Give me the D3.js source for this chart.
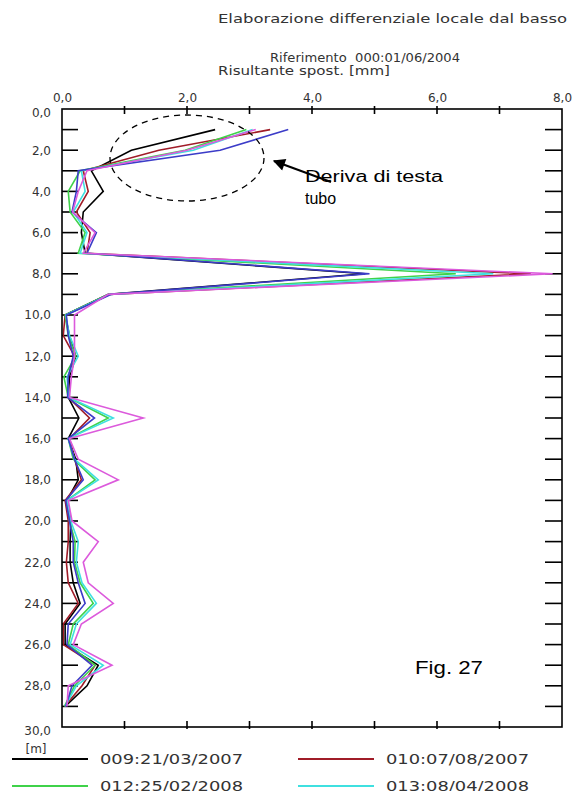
<!DOCTYPE html>
<html>
<head>
  <meta charset="utf-8">
  <title>Elaborazione differenziale locale dal basso</title>
  <script src="https://d3js.org/d3.v7.min.js"></script>
  <style>
    body { margin: 0; background: #fff; }
    svg { display: block; }
    .lbl { font-family: "DejaVu Sans", Verdana, sans-serif; fill: #333; white-space: pre; }
    .ann { font-family: "Liberation Sans", Arial, sans-serif; fill: #000; }
  </style>
</head>
<body>
<div id="chart"></div>
<script>
// depth of each reading [m]
var depths = [1,2,3,4,5,6,7,8,9,10,11,12,13,14,15,16,17,18,19,20,21,22,23,24,25,26,27,28,29];

// resultant displacement [mm], one array per reading
var s009 = [2.45,1.11,0.47,0.66,0.34,0.31,0.37,4.85,0.74,0.05,0.12,0.22,0.12,0.10,0.27,0.10,0.22,0.26,0.08,0.14,0.13,0.13,0.18,0.29,0.05,0.05,0.58,0.40,0.05];
var s010 = [3.33,1.55,0.34,0.42,0.23,0.45,0.40,7.50,0.76,0.05,0.02,0.20,0.10,0.10,0.44,0.12,0.20,0.31,0.05,0.10,0.10,0.07,0.10,0.26,0.02,0.02,0.53,0.32,0.04];
var s012 = [2.95,1.97,0.29,0.10,0.13,0.37,0.26,6.30,0.75,0.05,0.10,0.22,0.03,0.10,0.74,0.10,0.18,0.53,0.08,0.12,0.21,0.20,0.29,0.50,0.18,0.10,0.53,0.20,0.04];
var s013 = [3.05,2.10,0.31,0.37,0.18,0.40,0.29,6.90,0.76,0.06,0.12,0.26,0.08,0.11,0.82,0.10,0.20,0.58,0.08,0.14,0.26,0.23,0.32,0.55,0.23,0.13,0.66,0.23,0.05];
var s014 = [3.62,2.53,0.26,0.23,0.16,0.55,0.40,4.92,0.78,0.07,0.10,0.18,0.10,0.09,0.52,0.10,0.20,0.34,0.06,0.12,0.18,0.18,0.26,0.37,0.10,0.08,0.48,0.16,0.06];
var s015 = [3.10,2.00,0.40,0.26,0.17,0.53,0.34,7.85,0.74,0.20,0.20,0.20,0.15,0.12,1.30,0.12,0.26,0.90,0.10,0.16,0.58,0.34,0.42,0.82,0.31,0.18,0.80,0.10,0.08];

var seriesNames  = ["009:21/03/2007","010:07/08/2007","012:25/02/2008","013:08/04/2008","014","015"];
var seriesValues = [s009, s010, s012, s013, s014, s015];
var seriesColors = ["#000000","#a01c28","#3fd24a","#3fe0e0","#3c3cc8","#dc5adc"];

var xTickLabels = [0,2,4,6,8];
var yTickLabels = [0,2,4,6,8,10,12,14,16,18,20,22,24,26,28,30];

var W = 574, H = 791;
var plot = {left: 62, right: 562, top: 109, bottom: 727};   // window.top is read-only, so keep these in an object

var svg = d3.select("#chart").append("svg")
    .attr("width", W)
    .attr("height", H);

var x = d3.scaleLinear().domain([0, 8]).range([plot.left, plot.right]);
var y = d3.scaleLinear().domain([0, 30]).range([plot.top, plot.bottom]);
var fmt = function(d){ return d.toFixed(1).replace(".", ","); };

// titles
svg.append("text").attr("class","lbl").attr("x",218).attr("y",23)
  .attr("font-size",13).attr("textLength",349).attr("lengthAdjust","spacingAndGlyphs")
  .text("Elaborazione differenziale locale dal basso");
svg.append("text").attr("class","lbl").attr("x",270).attr("y",62)
  .attr("font-size",13).attr("textLength",190).attr("lengthAdjust","spacingAndGlyphs")
  .text("Riferimento  000:01/06/2004");
svg.append("text").attr("class","lbl").attr("x",218).attr("y",75)
  .attr("font-size",13).attr("textLength",172).attr("lengthAdjust","spacingAndGlyphs")
  .text("Risultante spost. [mm]");

// axis labels (tick marks drawn separately)
var xAxis = svg.append("g")
    .attr("transform","translate(0," + (plot.top - 7) + ")")
    .call(d3.axisTop(x).tickValues(xTickLabels).tickSize(0).tickPadding(0).tickFormat(fmt));
xAxis.select(".domain").remove();
xAxis.selectAll("text").attr("class","lbl").attr("font-size",12).attr("fill","#333");

var yAxis = svg.append("g")
    .attr("transform","translate(" + (plot.left - 11) + ",0)")
    .call(d3.axisLeft(y).tickValues(yTickLabels).tickSize(0).tickPadding(0).tickFormat(fmt));
yAxis.select(".domain").remove();
yAxis.selectAll("text").attr("class","lbl").attr("font-size",12).attr("fill","#333");
yAxis.selectAll(".tick").filter(function(d){ return d === 0 || d === 30; }).select("text").attr("dy","0.6em");

svg.append("text").attr("class","lbl").attr("x",36).attr("y",753)
  .attr("font-size",12).attr("text-anchor","middle").text("[m]");

// tick marks: every metre on left and right, every mm on top and bottom
var yMinor = d3.range(1, 30);
var xMinor = d3.range(1, 8);
var ticks = svg.append("g").attr("stroke","#000").attr("stroke-width",1.6);
ticks.selectAll(".tl").data(yMinor).enter().append("line")
  .attr("x1", plot.left).attr("x2", plot.left + 16)
  .attr("y1", function(d){ return y(d); }).attr("y2", function(d){ return y(d); });
ticks.selectAll(".tr").data(yMinor).enter().append("line")
  .attr("x1", plot.right - 17).attr("x2", plot.right)
  .attr("y1", function(d){ return y(d); }).attr("y2", function(d){ return y(d); });
ticks.selectAll(".tt").data(xMinor).enter().append("line")
  .attr("x1", function(d){ return x(d); }).attr("x2", function(d){ return x(d); })
  .attr("y1", plot.top - 3).attr("y2", plot.top + 5);
ticks.selectAll(".tb").data(xMinor).enter().append("line")
  .attr("x1", function(d){ return x(d); }).attr("x2", function(d){ return x(d); })
  .attr("y1", plot.bottom - 6).attr("y2", plot.bottom + 2);

// series
var line = d3.line()
  .x(function(d){ return x(d[1]); })
  .y(function(d){ return y(d[0]); });

svg.append("g").selectAll("path")
  .data(seriesValues)
  .enter().append("path")
  .attr("fill","none")
  .attr("stroke", function(d,i){ return seriesColors[i]; })
  .attr("stroke-width",1.6)
  .attr("d", function(vals){ return line(depths.map(function(dp,i){ return [dp, vals[i]]; })); });

// frame
svg.append("rect")
  .attr("x", plot.left).attr("y", plot.top)
  .attr("width", plot.right - plot.left).attr("height", plot.bottom - plot.top)
  .attr("fill","none").attr("stroke","#000").attr("stroke-width",1.6);

// annotation: dashed ellipse, arrow, labels
svg.append("ellipse")
  .attr("cx",187).attr("cy",158).attr("rx",77).attr("ry",43)
  .attr("fill","none").attr("stroke","#000").attr("stroke-width",1.3)
  .attr("stroke-dasharray","6,5");

svg.append("defs").append("marker")
  .attr("id","ah").attr("viewBox","0 0 10 10").attr("refX",9).attr("refY",5)
  .attr("markerWidth",7).attr("markerHeight",5.5).attr("markerUnits","strokeWidth")
  .attr("orient","auto")
  .append("path").attr("d","M0,0 L10,5 L0,10 z").attr("fill","#000");
svg.append("line")
  .attr("x1",331).attr("y1",182).attr("x2",274).attr("y2",161)
  .attr("stroke","#000").attr("stroke-width",2.2).attr("marker-end","url(#ah)");

svg.append("text").attr("class","ann").attr("x",305).attr("y",182)
  .attr("font-size",16).attr("textLength",138).attr("lengthAdjust","spacingAndGlyphs")
  .text("Deriva di testa");
svg.append("text").attr("class","ann").attr("x",305).attr("y",204)
  .attr("font-size",16).text("tubo");
svg.append("text").attr("class","ann").attr("x",415).attr("y",674)
  .attr("font-size",19).attr("textLength",68).attr("lengthAdjust","spacingAndGlyphs")
  .text("Fig. 27");

// legend (only the first four entries fit on the page)
var legX = [12, 298];
var legY = [759, 786];
var leg = svg.append("g").selectAll("g")
  .data(seriesNames.slice(0,4))
  .enter().append("g")
  .attr("transform", function(d,i){ return "translate(" + legX[i % 2] + "," + legY[Math.floor(i / 2)] + ")"; });
leg.append("line")
  .attr("x1",0).attr("x2",76).attr("y1",0).attr("y2",0)
  .attr("stroke", function(d,i){ return seriesColors[i]; })
  .attr("stroke-width",2);
leg.append("text").attr("class","lbl")
  .attr("x",88).attr("y",5)
  .attr("font-size",14).attr("textLength",143).attr("lengthAdjust","spacingAndGlyphs")
  .text(function(d){ return d; });
</script>
</body>
</html>
